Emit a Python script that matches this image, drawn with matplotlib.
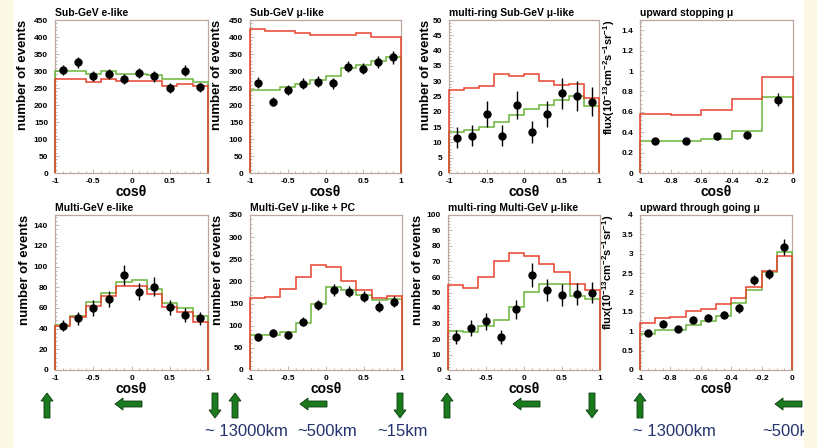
import numpy as np
import matplotlib
matplotlib.use("Agg")
import matplotlib.pyplot as plt
from matplotlib.ticker import MultipleLocator, AutoMinorLocator, FuncFormatter
from matplotlib.patches import FancyArrow, Rectangle

plt.rcParams["font.family"] = ["Liberation Sans", "DejaVu Sans"]
plt.rcParams["axes.unicode_minus"] = False
plt.rcParams["mathtext.fontset"] = "custom"
plt.rcParams["mathtext.rm"] = "Liberation Sans:bold"
plt.rcParams["mathtext.it"] = "Liberation Sans:bold"
plt.rcParams["mathtext.bf"] = "Liberation Sans:bold"

red_color = "#e8432d"
green_color = "#6cb43c"
frame_color = "#bca89e"
text_color = "#24336e"
arrow_color = "#1b7a1e"
cream = "#fcf8e6"

# bin edges in cos(theta)
edges_full = [-1.0, -0.8, -0.6, -0.4, -0.2, 0.0, 0.2, 0.4, 0.6, 0.8, 1.0]
edges_stop = [-1.0, -0.8, -0.6, -0.4, -0.2, 0.0]
edges_thru = [-1.0, -0.9, -0.8, -0.7, -0.6, -0.5, -0.4, -0.3, -0.2, -0.1, 0.0]

# Sub-GeV e-like
subgev_e_data = [303, 326, 286, 292, 277, 293, 284, 250, 301, 252]
subgev_e_err = [16, 16, 15, 15, 15, 15, 15, 14, 16, 14]
subgev_e_red = [276, 276, 269, 277, 271, 271, 271, 257, 262, 256]
subgev_e_green = [301, 301, 292, 301, 292, 292, 289, 277, 277, 269]

# Sub-GeV mu-like
subgev_mu_data = [266, 210, 243, 262, 269, 264, 313, 307, 327, 340]
subgev_mu_err = [16, 14, 15, 16, 16, 16, 17, 17, 17, 18]
subgev_mu_red = [423, 419, 419, 413, 406, 406, 406, 411, 401, 401]
subgev_mu_green = [245, 245, 252, 262, 274, 286, 308, 318, 328, 342]

# multi-ring Sub-GeV mu-like
mr_subgev_data = [11.5, 12.2, 19.3, 12.2, 22.2, 13.3, 19.2, 26.0, 25.2, 23.3]
mr_subgev_err = [3.4, 3.5, 4.3, 3.5, 4.6, 3.6, 4.3, 5.0, 4.9, 4.7]
mr_subgev_red = [27.1, 27.8, 28.4, 32.2, 31.6, 32.2, 30.0, 28.7, 29.2, 24.6]
mr_subgev_green = [13.5, 14.1, 15.1, 16.8, 18.9, 20.8, 22.2, 23.8, 25.2, 21.9]

# upward stopping mu
up_stop_data = [0.31, 0.31, 0.36, 0.37, 0.72]
up_stop_err = [0.03, 0.03, 0.035, 0.035, 0.06]
up_stop_red = [0.58, 0.565, 0.62, 0.73, 0.94]
up_stop_green = [0.31, 0.31, 0.33, 0.41, 0.75]

# Multi-GeV e-like
multigev_e_data = [42.8, 50, 60, 68.7, 92, 75.8, 80.6, 60.6, 53, 50]
multigev_e_err = [5.5, 6.5, 7.5, 8, 9.5, 8.5, 9, 7.5, 7, 6.5]
multigev_e_red = [42.1, 50.9, 61.6, 71.3, 81, 81, 73.6, 60.6, 55.7, 46.7]
multigev_e_green = [43.4, 52.5, 65.5, 74.5, 85.5, 87.2, 78.4, 64.5, 59.6, 51.8]

# Multi-GeV mu-like + PC
multigev_mu_data = [73.7, 82.8, 79, 109, 146.7, 180.6, 176.8, 165.5, 143, 154]
multigev_mu_err = [8, 9, 9, 10, 12, 13, 13, 13, 12, 12]
multigev_mu_red = [162, 165, 182, 211, 237, 233, 201, 181, 162, 166]
multigev_mu_green = [79, 79, 86.5, 107, 150, 187, 181, 169, 158, 160]

# multi-ring Multi-GeV mu-like
mr_multigev_data = [21.3, 27.2, 31.5, 21.3, 39.1, 61.3, 51.5, 48.5, 49, 50]
mr_multigev_err = [4.5, 5, 5.5, 4.5, 6, 7.5, 7, 7, 7, 7]
mr_multigev_red = [54.8, 53.2, 60.2, 70.2, 75.4, 73.4, 68.5, 63, 55.5, 51.5]
mr_multigev_green = [25, 24.3, 28.3, 32, 40.8, 50.6, 55.4, 55.4, 47.8, 45.7]

# upward through going mu
up_thru_data = [0.96, 1.19, 1.06, 1.30, 1.35, 1.43, 1.59, 2.32, 2.48, 3.17]
up_thru_err = [0.07, 0.09, 0.08, 0.09, 0.09, 0.10, 0.12, 0.13, 0.12, 0.20]
up_thru_red = [1.22, 1.33, 1.38, 1.52, 1.58, 1.71, 1.87, 2.15, 2.55, 2.93]
up_thru_green = [0.93, 1.04, 1.04, 1.17, 1.27, 1.39, 1.74, 2.06, 2.52, 3.04]

events_label = "number of events"
flux_label = r"flux(10$^{-13}$cm$^{-2}$s$^{-1}$sr$^{-1}$)"

panels = [
    # title, edges, data, err, red, green, ylabel, ymax, ystep, xstep, rect, label_x
    ("Sub-GeV e-like", edges_full, subgev_e_data, subgev_e_err, subgev_e_red, subgev_e_green,
     events_label, 450, 50, 0.5, [55, 20, 153, 153], -0.21),
    ("Sub-GeV \u03bc-like", edges_full, subgev_mu_data, subgev_mu_err, subgev_mu_red, subgev_mu_green,
     events_label, 450, 50, 0.5, [250, 20, 151, 153], -0.22),
    ("multi-ring Sub-GeV \u03bc-like", edges_full, mr_subgev_data, mr_subgev_err, mr_subgev_red,
     mr_subgev_green, events_label, 50, 5, 0.5, [449, 20, 150, 153], -0.155),
    ("upward stopping \u03bc", edges_stop, up_stop_data, up_stop_err, up_stop_red, up_stop_green,
     flux_label, 1.5, 0.2, 0.2, [640, 20, 153, 153], -0.2),
    ("Multi-GeV e-like", edges_full, multigev_e_data, multigev_e_err, multigev_e_red, multigev_e_green,
     events_label, 150, 20, 0.5, [55, 215, 153, 155], -0.196),
    ("Multi-GeV \u03bc-like + PC", edges_full, multigev_mu_data, multigev_mu_err, multigev_mu_red,
     multigev_mu_green, events_label, 350, 50, 0.5, [250, 215, 152, 155], -0.21),
    ("multi-ring Multi-GeV \u03bc-like", edges_full, mr_multigev_data, mr_multigev_err, mr_multigev_red,
     mr_multigev_green, events_label, 100, 10, 0.5, [448, 215, 152, 155], -0.2),
    ("upward through going \u03bc", edges_thru, up_thru_data, up_thru_err, up_thru_red, up_thru_green,
     flux_label, 4, 0.5, 0.2, [640, 215, 152, 155], -0.21),
]

W, H = 817, 448
fig = plt.figure(figsize=(W / 100, H / 100), dpi=100)
fig.patch.set_facecolor("white")

fmt = FuncFormatter(lambda v, p: f"{round(v, 6) + 0:g}")

for title, edges, data, err, red, green, ylabel, ymax, ystep, xstep, rect, label_x in panels:
    x0, y0, w, h = rect
    ax = fig.add_axes([x0 / W, 1 - (y0 + h) / H, w / W, h / H])
    centers = [(a + b) / 2 for a, b in zip(edges[:-1], edges[1:])]

    ax.stairs(green, edges, baseline=0, color=green_color, lw=1.1, zorder=3, clip_on=False)
    ax.stairs(red, edges, baseline=0, color=red_color, lw=1.1, zorder=3.5, clip_on=False)
    ax.errorbar(centers, data, yerr=err, fmt="o", color="black", ms=5, elinewidth=1.0,
                capsize=0, zorder=4)

    ax.set_xlim(edges[0], edges[-1])
    ax.set_ylim(0, ymax)
    ax.xaxis.set_major_locator(MultipleLocator(xstep))
    ax.xaxis.set_minor_locator(AutoMinorLocator(5 if xstep == 0.5 else 4))
    ax.yaxis.set_major_locator(MultipleLocator(ystep))
    ax.yaxis.set_minor_locator(AutoMinorLocator(5))
    ax.xaxis.set_major_formatter(fmt)
    ax.yaxis.set_major_formatter(fmt)

    for spine in ax.spines.values():
        spine.set_color(frame_color)
        spine.set_linewidth(0.9)
    ax.tick_params(which="both", direction="in", color=frame_color, width=0.6,
                   top=False, right=False)
    ax.tick_params(which="major", length=3)
    ax.tick_params(which="minor", length=1.5)
    ax.tick_params(axis="y", labelsize=6, pad=5)
    ax.tick_params(axis="x", labelsize=6, pad=3.5)
    for lbl in ax.get_xticklabels() + ax.get_yticklabels():
        lbl.set_fontweight("bold")

    ax.text(0.0, 1.012, title, transform=ax.transAxes, ha="left", va="bottom",
            fontsize=7.5, fontweight="bold")
    ylabel_size = 8 if ylabel == flux_label else 9.5
    ax.set_ylabel(ylabel, fontsize=ylabel_size, fontweight="bold", loc="top", va="center")
    ax.yaxis.set_label_coords(label_x, 1.0)
    ax.set_xlabel("cos\u03b8", fontsize=10, fontweight="bold", va="center")
    ax.xaxis.set_label_coords(0.5, -0.125)

# overlay in pixel coordinates for arrows, distances and slide margins
ov = fig.add_axes([0, 0, 1, 1], facecolor="none", zorder=10)
ov.set_xlim(0, W)
ov.set_ylim(H, 0)
ov.axis("off")

up_arrows = [47, 235, 447, 640]
down_arrows = [215, 400, 592]
left_arrows = [142, 327, 540, 802]
for x in up_arrows:
    ov.add_patch(FancyArrow(x, 418, 0, -25, width=6, head_width=12, head_length=8,
                            length_includes_head=True, fc=arrow_color, ec="#0d3d10", lw=0.6))
for x in down_arrows:
    ov.add_patch(FancyArrow(x, 393, 0, 25, width=6, head_width=12, head_length=8,
                            length_includes_head=True, fc=arrow_color, ec="#0d3d10", lw=0.6))
for x in left_arrows:
    ov.add_patch(FancyArrow(x, 404, -27, 0, width=6, head_width=12, head_length=8,
                            length_includes_head=True, fc=arrow_color, ec="#0d3d10", lw=0.6))

distance_labels = ["~ 13000km", "~500km", "~15km", "~ 13000km", "~500km"]
distance_x = [205, 297, 377, 633, 762]
for txt, x in zip(distance_labels, distance_x):
    ov.text(x, 431, txt, color=text_color, fontsize=12, ha="left", va="center")

ov.add_patch(Rectangle((0, 0), 14, H, fc=cream, ec="none", zorder=20))
ov.add_patch(Rectangle((804, 0), W - 804, H, fc=cream, ec="none", zorder=20))

fig.savefig("out.png", dpi=100)
